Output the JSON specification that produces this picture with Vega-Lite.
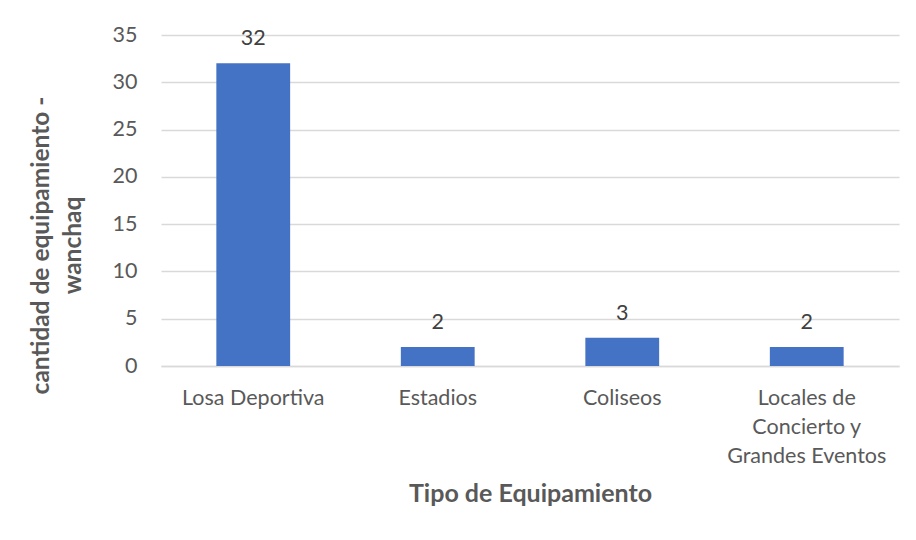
{
  "$schema": "https://vega.github.io/schema/vega-lite/v6.json",
  "width": 738,
  "height": 331,
  "autosize": {"type": "none"},
  "padding": {"left": 161, "top": 35, "right": 17, "bottom": 174},
  "background": "white",
  "config": {
    "view": {"stroke": null},
    "font": "Lato"
  },
  "data": {
    "values": [
      {"tipo": "Losa Deportiva", "cantidad": 32},
      {"tipo": "Estadios", "cantidad": 2},
      {"tipo": "Coliseos", "cantidad": 3},
      {"tipo": "Locales de Concierto y Grandes Eventos", "cantidad": 2}
    ]
  },
  "encoding": {
    "x": {
      "field": "tipo",
      "type": "nominal",
      "sort": null,
      "scale": {"paddingInner": 0.6, "paddingOuter": 0.3},
      "axis": {
        "title": "Tipo de Equipamiento",
        "titleFont": "Lato",
        "titleFontSize": 25,
        "titleFontWeight": "bold",
        "titleColor": "#595959",
        "titlePadding": 15,
        "labelAngle": 0,
        "labelFont": "Lato",
        "labelFontSize": 21.5,
        "labelColor": "#595959",
        "labelPadding": 21,
        "labelLineHeight": 29,
        "labelExpr": "datum.value == 'Locales de Concierto y Grandes Eventos' ? ['Locales de', 'Concierto y', 'Grandes Eventos'] : datum.value",
        "ticks": false,
        "domainColor": "#d9d9d9",
        "domainWidth": 1.5
      }
    },
    "y": {
      "field": "cantidad",
      "type": "quantitative",
      "scale": {"domain": [0, 35], "nice": false},
      "axis": {
        "values": [0, 5, 10, 15, 20, 25, 30, 35],
        "title": ["cantidad de equipamiento -", "wanchaq"],
        "titleFont": "Lato",
        "titleFontSize": 24.5,
        "titleFontWeight": "bold",
        "titleColor": "#595959",
        "titleAngle": -90,
        "titleAlign": "center",
        "titleBaseline": "top",
        "titleX": -132,
        "titleY": 210,
        "titleLineHeight": 32,
        "labelFont": "Lato",
        "labelFontSize": 21.5,
        "labelColor": "#595959",
        "labelPadding": 24,
        "ticks": false,
        "domain": false,
        "gridColor": "#d9d9d9",
        "gridWidth": 1.5
      }
    }
  },
  "layer": [
    {
      "mark": {"type": "bar", "color": "#4472c4"}
    },
    {
      "mark": {"type": "text", "baseline": "alphabetic", "dy": -18, "font": "Lato", "fontSize": 21.5, "color": "#404040"},
      "encoding": {"text": {"field": "cantidad", "type": "quantitative"}}
    }
  ]
}
